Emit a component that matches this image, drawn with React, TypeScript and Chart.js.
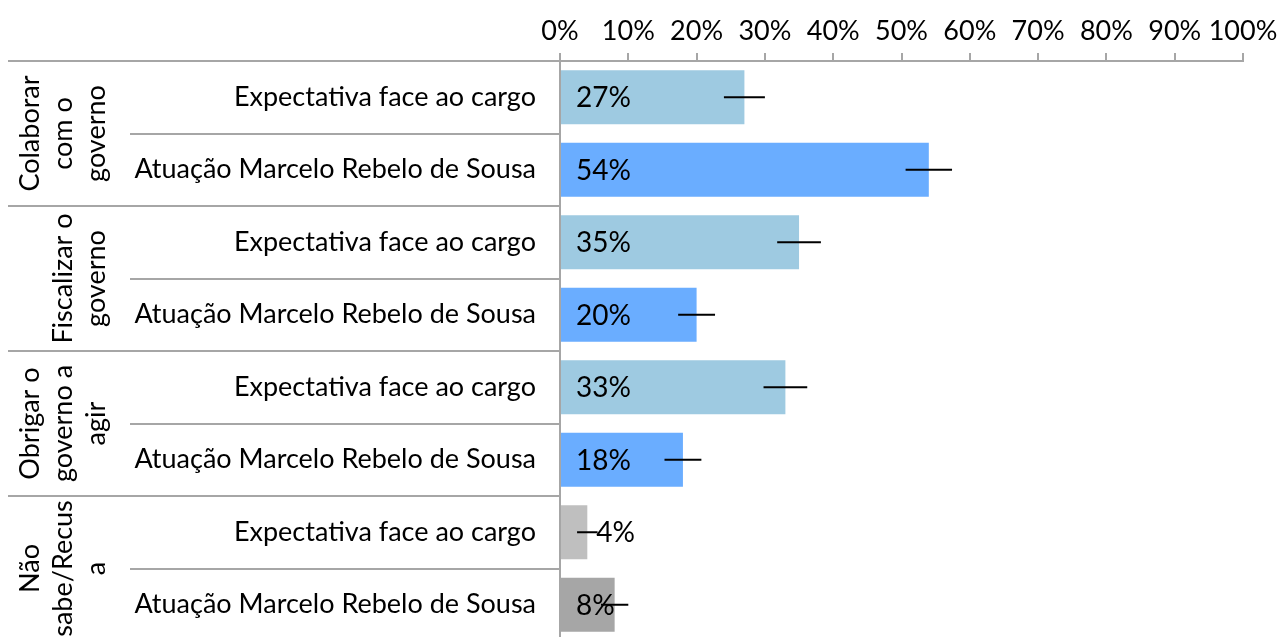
import { useEffect, useRef } from "react";
import { Chart, registerables } from "chart.js";

Chart.register(...registerables);

const groupLabels: string[][] = [
  ["Colaborar", "com o", "governo"],
  ["Fiscalizar o", "governo"],
  ["Obrigar o", "governo a", "agir"],
  ["Não", "sabe/Recus", "a"],
];
const categories = [
  "Expectativa face ao cargo",
  "Atuação Marcelo Rebelo de Sousa",
  "Expectativa face ao cargo",
  "Atuação Marcelo Rebelo de Sousa",
  "Expectativa face ao cargo",
  "Atuação Marcelo Rebelo de Sousa",
  "Expectativa face ao cargo",
  "Atuação Marcelo Rebelo de Sousa",
];
const values = [27, 54, 35, 20, 33, 18, 4, 8];
const errors = [3.0, 3.4, 3.2, 2.7, 3.2, 2.7, 1.5, 2.0];
const barColors = [
  "#9ECAE1", "#6AADFF",
  "#9ECAE1", "#6AADFF",
  "#9ECAE1", "#6AADFF",
  "#BFBFBF", "#A6A6A6",
];
const xMin = 0;
const xMax = 100;
const xStep = 10;

const FONT = "Lato, 'Noto Sans', sans-serif";
const GRAY = "#A6A6A6";

const overlay = {
  id: "overlay",
  afterDatasetsDraw(chart: any) {
    const ctx = chart.ctx;
    const xs = chart.scales.x;
    const meta = chart.getDatasetMeta(0);
    ctx.save();
    meta.data.forEach((bar: any, i: number) => {
      const y = bar.y;
      const v = values[i];
      ctx.fillStyle = "#000";
      ctx.font = `28px ${FONT}`;
      ctx.textBaseline = "middle";
      ctx.textAlign = "left";
      const lx = v < 5 ? xs.getPixelForValue(v) + 9 : xs.getPixelForValue(0) + 16;
      ctx.fillText(`${v}%`, lx, y + 1);
      ctx.strokeStyle = "#000";
      ctx.lineWidth = 2;
      ctx.beginPath();
      ctx.moveTo(xs.getPixelForValue(v - errors[i]), y);
      ctx.lineTo(xs.getPixelForValue(v + errors[i]), y);
      ctx.stroke();
    });
    ctx.restore();
  },
  afterDraw(chart: any) {
    const ctx = chart.ctx;
    const area = chart.chartArea;
    const rowH = (area.bottom - area.top) / categories.length;
    ctx.save();
    ctx.strokeStyle = GRAY;
    ctx.lineWidth = 2;
    for (let i = 0; i < categories.length; i++) {
      const y = Math.round(area.top + i * rowH);
      ctx.beginPath();
      ctx.moveTo(i % 2 === 0 ? 0 : 122, y);
      ctx.lineTo(area.left, y);
      ctx.stroke();
    }
    ctx.fillStyle = "#000";
    ctx.font = `27px ${FONT}`;
    ctx.textAlign = "center";
    ctx.textBaseline = "middle";
    groupLabels.forEach((lines, g) => {
      const cy = area.top + (g * 2 + 1) * rowH;
      const n = lines.length;
      lines.forEach((t, k) => {
        const cx = 88 - (n - 1 - k) * 33;
        ctx.save();
        ctx.translate(cx, cy);
        ctx.rotate(-Math.PI / 2);
        ctx.fillText(t, 0, 0);
        ctx.restore();
      });
    });
    ctx.restore();
  },
};

export default function App() {
  const ref = useRef<HTMLCanvasElement>(null);
  useEffect(() => {
    const canvas = ref.current!;
    const chart = new Chart(canvas, {
      type: "bar",
      data: {
        labels: categories,
        datasets: [
          {
            data: values,
            backgroundColor: barColors,
            borderWidth: 0,
            categoryPercentage: 1,
            barPercentage: 0.745,
          },
        ],
      },
      options: {
        indexAxis: "y",
        responsive: false,
        animation: false,
        devicePixelRatio: 1,
        layout: { padding: { left: 0, right: 45, top: 0, bottom: 7 } },
        plugins: { legend: { display: false }, tooltip: { enabled: false } },
        scales: {
          x: {
            position: "top",
            min: xMin,
            max: xMax,
            afterFit(scale: any) {
              scale.height = 53;
              scale.paddingLeft = 0;
              scale.paddingRight = 0;
            },
            ticks: {
              stepSize: xStep,
              autoSkip: false,
              maxRotation: 0,
              padding: 6,
              color: "#000",
              font: { family: FONT, size: 27 },
              callback: (v: any) => `${v}%`,
            },
            grid: {
              drawOnChartArea: false,
              drawTicks: true,
              tickLength: 8,
              color: GRAY,
              lineWidth: 2,
            },
            border: { display: true, color: GRAY, width: 2 },
          },
          y: {
            afterFit(scale: any) {
              scale.width = 552;
              scale.paddingTop = 0;
              scale.paddingBottom = 0;
            },
            ticks: {
              padding: 24,
              color: "#000",
              font: { family: FONT, size: 27 },
              autoSkip: false,
            },
            grid: { display: false, drawTicks: false },
            border: { display: true, color: GRAY, width: 2 },
          },
        },
      },
      plugins: [overlay],
    });
    return () => chart.destroy();
  }, []);
  return (
    <div style={{ position: "fixed", left: 8, top: 8, width: 1280, height: 640 }}>
      <canvas ref={ref} width={1280} height={640} style={{ display: "block" }} />
    </div>
  );
}
